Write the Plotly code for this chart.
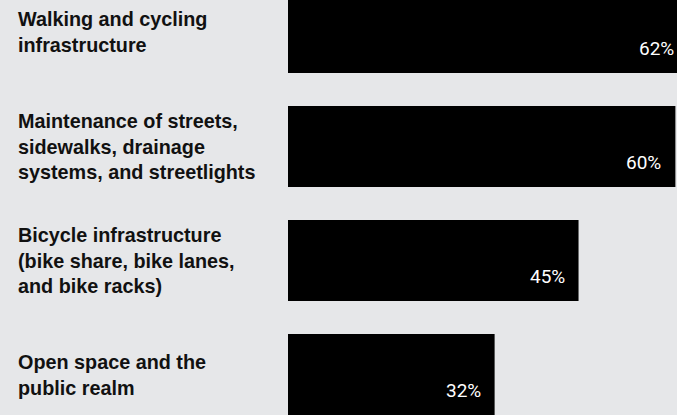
import plotly.graph_objects as go

# ---- data ----
categories = [
    "Walking and cycling infrastructure",
    "Maintenance of streets, sidewalks, drainage systems, and streetlights",
    "Bicycle infrastructure (bike share, bike lanes, and bike racks)",
    "Open space and the public realm",
]
label_lines = [
    ["Walking and cycling", "infrastructure"],
    ["Maintenance of streets,", "sidewalks, drainage", "systems, and streetlights"],
    ["Bicycle infrastructure", "(bike share, bike lanes,", "and bike racks)"],
    ["Open space and the", "public realm"],
]
values = [62, 60, 45, 32]
value_labels = ["62%", "60%", "45%", "32%"]

# ---- style ----
BG = "#e6e7e9"
X_MAX = 60.25
LABEL_FONT = "Liberation Sans, Arial, sans-serif"
VALUE_FONT = "Roboto, Liberation Sans Narrow, sans-serif"

fig = go.Figure(
    go.Bar(
        x=values,
        y=categories,
        orientation="h",
        marker=dict(color="#000000", line=dict(width=0)),
        hoverinfo="skip",
    )
)

annotations = []
for cat, lines in zip(categories, label_lines):
    annotations.append(dict(
        xref="paper", yref="y", x=0, y=cat,
        xanchor="left", yanchor="middle", xshift=-272,
        text="<br>".join(f"<b>{l}</b>" for l in lines),
        align="left", showarrow=False,
        font=dict(family=LABEL_FONT, size=19.8, color="#111111"),
    ))
for cat, v, lab in zip(categories, values, value_labels):
    annotations.append(dict(
        xref="paper", yref="y", x=v / X_MAX, y=cat,
        xanchor="right", yanchor="middle", xshift=-12, yshift=-16.3,
        text=lab, showarrow=False,
        font=dict(family=VALUE_FONT, size=19, color="#ffffff"),
    ))

fig.update_layout(
    width=677, height=415,
    margin=dict(l=288, r=0, t=0, b=0, pad=0),
    paper_bgcolor=BG, plot_bgcolor=BG,
    bargap=0.29,
    showlegend=False,
    annotations=annotations,
    xaxis=dict(range=[0, X_MAX], visible=False, fixedrange=True),
    yaxis=dict(type="category", categoryorder="array", categoryarray=categories,
               range=[3.355, -0.285], visible=False, fixedrange=True),
)

fig.write_html(
    "out.html",
    config={"displayModeBar": False},
    post_script="document.body.style.margin='0';document.body.style.background='" + BG + "';",
)
